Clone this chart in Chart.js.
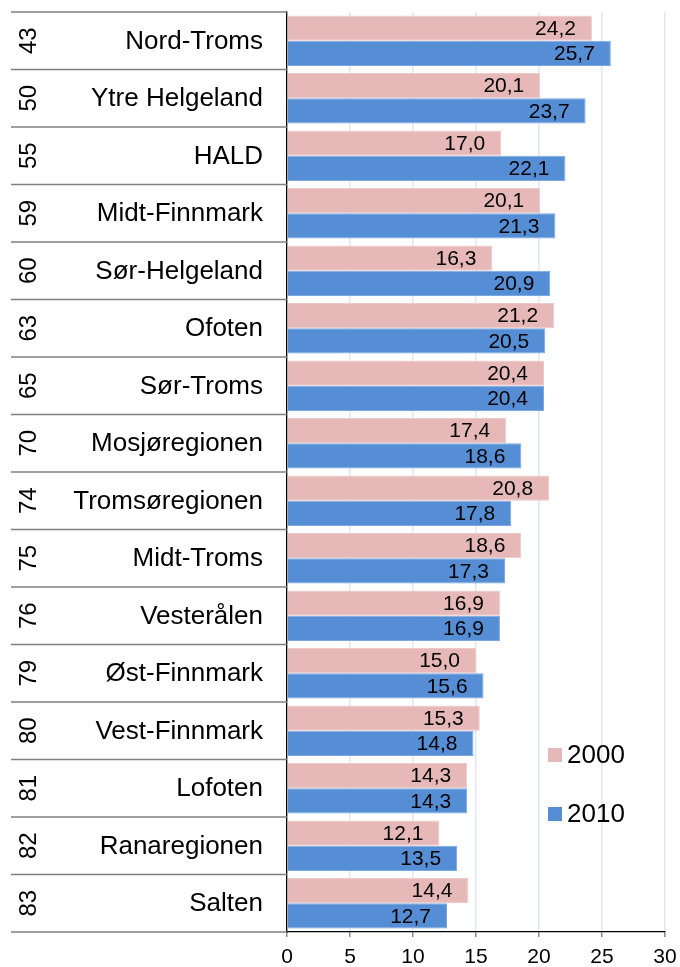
<!DOCTYPE html>
<html>
<head>
<meta charset="utf-8">
<script src="https://cdn.jsdelivr.net/npm/chart.js@4"></script>
<style>
    html, body { margin: 0; padding: 0; background: #fff; }
    #wrap { width: 680px; height: 967px; }
</style>
</head>
<body>
<div id="wrap"><canvas id="chart" width="680" height="967"></canvas></div>
<script>
// --- data ---
const ranks = [43, 50, 55, 59, 60, 63, 65, 70, 74, 75, 76, 79, 80, 81, 82, 83];
const regions = ['Nord-Troms', 'Ytre Helgeland', 'HALD', 'Midt-Finnmark', 'Sør-Helgeland', 'Ofoten',
    'Sør-Troms', 'Mosjøregionen', 'Tromsøregionen', 'Midt-Troms', 'Vesterålen', 'Øst-Finnmark',
    'Vest-Finnmark', 'Lofoten', 'Ranaregionen', 'Salten'];
const v2000 = [24.2, 20.1, 17.0, 20.1, 16.3, 21.2, 20.4, 17.4, 20.8, 18.6, 16.9, 15.0, 15.3, 14.3, 12.1, 14.4];
const v2010 = [25.7, 23.7, 22.1, 21.3, 20.9, 20.5, 20.4, 18.6, 17.8, 17.3, 16.9, 15.6, 14.8, 14.3, 13.5, 12.7];
const xTicks = [0, 5, 10, 15, 20, 25, 30];

const FONT = '"Liberation Sans", Arial, sans-serif';
const PINK = '#e6b9b8', BLUE = '#558ed5';

/* --- left table: rank (rotated) + region name + row lines --- */
const leftTable = {
    id: 'leftTable',
    afterDraw(chart) {
        const { ctx, chartArea, scales: { y } } = chart;
        const n = regions.length;
        const bounds = [chartArea.top];
        for (let i = 0; i < n - 1; i++) {
            bounds.push((y.getPixelForValue(i) + y.getPixelForValue(i + 1)) / 2);
        }
        bounds.push(chartArea.bottom);

        ctx.save();
        ctx.strokeStyle = '#808080';
        ctx.lineWidth = 1.3;
        bounds.forEach(b => {
            ctx.beginPath();
            ctx.moveTo(11, b);
            ctx.lineTo(chartArea.left, b);
            ctx.stroke();
        });

        ctx.fillStyle = '#000';
        ctx.textBaseline = 'middle';
        for (let i = 0; i < n; i++) {
            const cy = y.getPixelForValue(i);
            ctx.font = '26px ' + FONT;
            ctx.textAlign = 'right';
            ctx.fillText(regions[i], 263, cy + 1);

            ctx.save();
            ctx.translate(28, cy);
            ctx.rotate(-Math.PI / 2);
            ctx.font = '24px ' + FONT;
            ctx.textAlign = 'center';
            ctx.fillText(String(ranks[i]), 0, 1);
            ctx.restore();
        }
        ctx.restore();
    }
};

/* --- value labels inside bar ends --- */
const barLabels = {
    id: 'barLabels',
    afterDatasetsDraw(chart) {
        const { ctx } = chart;
        ctx.save();
        ctx.font = '21px ' + FONT;
        ctx.fillStyle = '#000';
        ctx.textAlign = 'right';
        ctx.textBaseline = 'middle';
        chart.data.datasets.forEach((ds, di) => {
            chart.getDatasetMeta(di).data.forEach((bar, i) => {
                const txt = ds.data[i].toFixed(1).replace('.', ',');
                ctx.fillText(txt, bar.x - 16, bar.y + 1);
            });
        });
        ctx.restore();
    }
};

/* --- legend inside the plot --- */
const innerLegend = {
    id: 'innerLegend',
    afterDraw(chart) {
        const { ctx } = chart;
        const items = [
            { label: '2000', color: PINK, y: 755 },
            { label: '2010', color: BLUE, y: 814 }
        ];
        ctx.save();
        ctx.font = '26px ' + FONT;
        ctx.textAlign = 'left';
        ctx.textBaseline = 'middle';
        items.forEach(it => {
            ctx.fillStyle = it.color;
            ctx.fillRect(548, it.y - 7, 14, 14);
            ctx.fillStyle = '#000';
            ctx.fillText(it.label, 567, it.y + 1);
        });
        ctx.restore();
    }
};

new Chart(document.getElementById('chart').getContext('2d'), {
    type: 'bar',
    data: {
        labels: regions,
        datasets: [
            { label: '2000', data: v2000, backgroundColor: PINK, borderColor: '#edc9c8', borderWidth: 1 },
            { label: '2010', data: v2010, backgroundColor: BLUE, borderColor: '#7ba8e0', borderWidth: 1 }
        ]
    },
    options: {
        indexAxis: 'y',
        animation: false,
        responsive: false,
        maintainAspectRatio: false,
        layout: { padding: { left: 287, right: 15, top: 12, bottom: 0 } },
        datasets: { bar: { categoryPercentage: 0.88, barPercentage: 1.0 } },
        plugins: {
            legend: { display: false },
            tooltip: { enabled: false }
        },
        scales: {
            x: {
                min: 0,
                max: 30,
                afterBuildTicks: (s) => { s.ticks = xTicks.map(v => ({ value: v })); },
                afterFit: (s) => { s.height = 35; s.paddingLeft = 0; s.paddingRight = 0; },
                grid: { color: '#e4e4fb', lineWidth: 1.5, tickColor: '#888', tickLength: 5 },
                border: { color: '#000', width: 1.3 },
                ticks: { color: '#000', font: { family: FONT, size: 21 }, padding: 8, maxRotation: 0, autoSkip: false }
            },
            y: {
                afterFit: (s) => { s.width = 0; },
                grid: { display: false },
                border: { display: true, color: '#000', width: 1.3 },
                ticks: { display: false }
            }
        }
    },
    plugins: [leftTable, barLabels, innerLegend]
});
</script>
</body>
</html>
